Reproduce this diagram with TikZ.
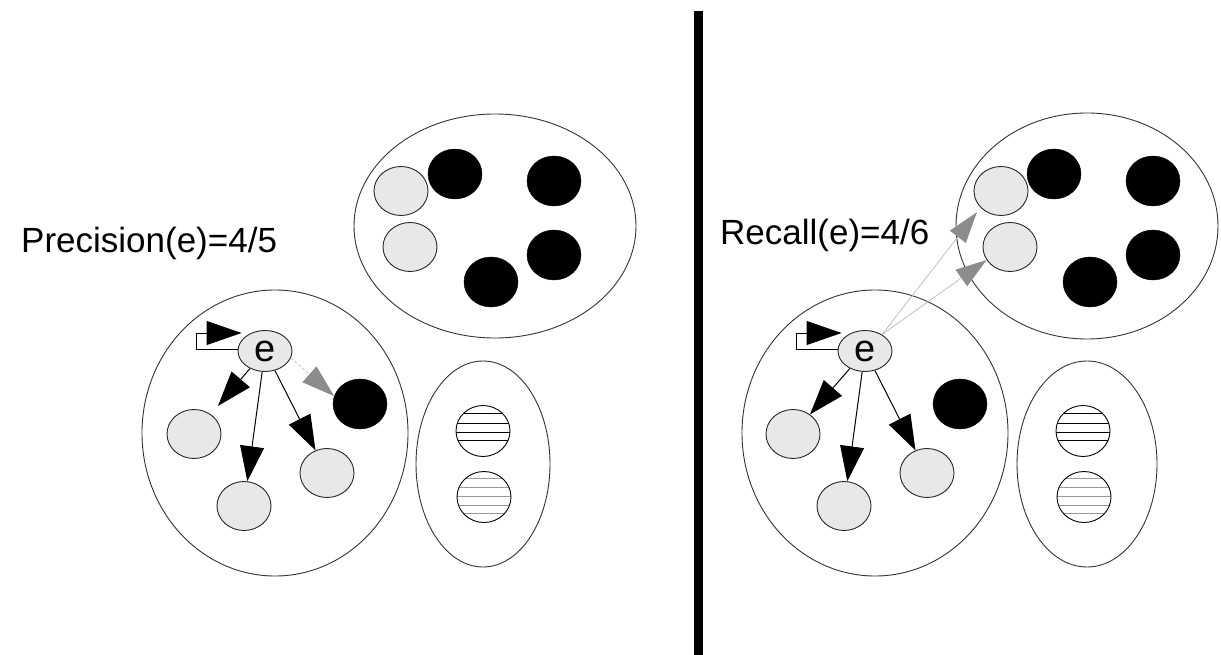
\documentclass[tikz,border=0pt]{standalone}
\usepackage{fontspec}
\setmainfont{Liberation Sans}
\usetikzlibrary{shapes.geometric,arrows.meta,calc}
\tikzset{
  region/.style={ellipse, draw=black!80, line width=0.9pt, inner sep=0pt},
  gball/.style={ellipse, draw=black!85, line width=0.9pt, fill=black!9, minimum width=54pt, minimum height=49pt, inner sep=0pt},
  bball/.style={ellipse, draw=black, fill=black, minimum width=54pt, minimum height=50pt, inner sep=0pt},
  hball/.style={ellipse, draw=black, line width=0.9pt, minimum width=54pt, minimum height=51pt, inner sep=0pt,
    path picture={\foreach \o in {#1} \draw[line width=1pt, black] ([yshift=\o pt]path picture bounding box.west) -- ([yshift=\o pt]path picture bounding box.east);}},
  hballlight/.style={ellipse, draw=black, line width=0.9pt, minimum width=54pt, minimum height=51pt, inner sep=0pt,
    path picture={\foreach \o in {#1} \draw[line width=1pt, black!40] ([yshift=\o pt]path picture bounding box.west) -- ([yshift=\o pt]path picture bounding box.east);}},
  enode/.style={ellipse, draw=black!85, line width=0.9pt, fill=black!9, minimum width=54pt, minimum height=41pt, inner sep=0pt, font=\fontsize{38}{38}\selectfont},
  lbl/.style={anchor=base west, inner sep=0pt, font=\fontsize{35}{42}\selectfont},
  arr/.style={-{Triangle[length=35pt,width=24pt]}, line width=1pt, black},
  garr/.style={line width=0.9pt, draw=black!22, dash pattern=on 3pt off 2pt, arrows={-{Triangle[length=33pt,width=21pt,color=black!45,fill=black!45]}}},
  larr/.style={line width=0.8pt, draw=black!25, arrows={-{Triangle[length=31pt,width=20pt,color=black!45,fill=black!45]}}},
}
\begin{document}
\begin{tikzpicture}[x=1pt,y=-1pt]
\useasboundingbox (0,0) rectangle (1221,655);

% divider
\draw[line width=9pt] (698.5,11) -- (698.5,660);

% ---------------- left panel ----------------
\node[lbl] (plabel) at (21,253) {Precision(e)=4/5};

\node[region, minimum width=282pt, minimum height=224pt] (T1) at (495,226) {};
\node[gball] (g1) at (401,191) {};
\node[gball] (g2) at (410,247) {};
\node[bball] (b1) at (455,174) {};
\node[bball] (b2) at (554,181) {};
\node[bball] (b3) at (491,282) {};
\node[bball] (b4) at (554,255) {};

\node[region, minimum width=266pt, minimum height=286pt] (B1) at (275,433) {};
\node[enode] (e1) at (265,351) {e};
\node[gball] (c1) at (194,434) {};
\node[gball] (c2) at (244,506) {};
\node[gball] (c3) at (327,473) {};
\node[bball] (k1) at (360,404) {};

\node[region, minimum width=134pt, minimum height=206pt] (S1) at (483,464) {};
\node[hball={18,8,-1,-9}] (h1) at (483,431) {};
\node[hballlight={19,10,1,-8,-16}] (h2) at (484,497) {};

\draw[arr] ([yshift=2pt]e1.west) -| ([xshift=-41pt,yshift=18pt]e1.west) -- ([xshift=4pt,yshift=18pt]e1.west);
\draw[arr, shorten >=11pt] (e1) -- (c1);
\draw[arr] (e1) -- (c2);
\draw[arr] (e1) -- (c3);
\draw[garr] (e1.-15) -- (k1.163);

% ---------------- right panel ----------------
\node[lbl] (rlabel) at (720,244) {Recall(e)=4/6};

\node[region, minimum width=262pt, minimum height=226pt] (T2) at (1087,226) {};
\node[gball] (g1r) at (1001,191) {};
\node[gball] (g2r) at (1010,247) {};
\node[bball] (b1r) at (1054,174) {};
\node[bball] (b2r) at (1153,181) {};
\node[bball] (b3r) at (1090,282) {};
\node[bball] (b4r) at (1153,255) {};

\node[region, minimum width=266pt, minimum height=286pt] (B2) at (875,433) {};
\node[enode] (e2) at (865,351) {e};
\node[gball] (c1r) at (793,434) {};
\node[gball] (c2r) at (844,506) {};
\node[gball] (c3r) at (927,473) {};
\node[bball] (k1r) at (960,404) {};

\node[region, minimum width=140pt, minimum height=206pt] (S2) at (1087,464) {};
\node[hball={18,8,-1,-9}] (h1r) at (1083,431) {};
\node[hballlight={19,10,1,-8,-16}] (h2r) at (1084,497) {};

\draw[arr] ([yshift=2pt]e2.west) -| ([xshift=-41pt,yshift=18pt]e2.west) -- ([xshift=4pt,yshift=18pt]e2.west);
\draw[arr] (e2) -- (c1r);
\draw[arr] (e2) -- (c2r);
\draw[arr] (e2) -- (c3r);
\draw[larr, shorten >=6pt] (e2.44) -- (g1r.219);
\draw[larr] (e2.44) -- (g2r.209);
\end{tikzpicture}
\end{document}
